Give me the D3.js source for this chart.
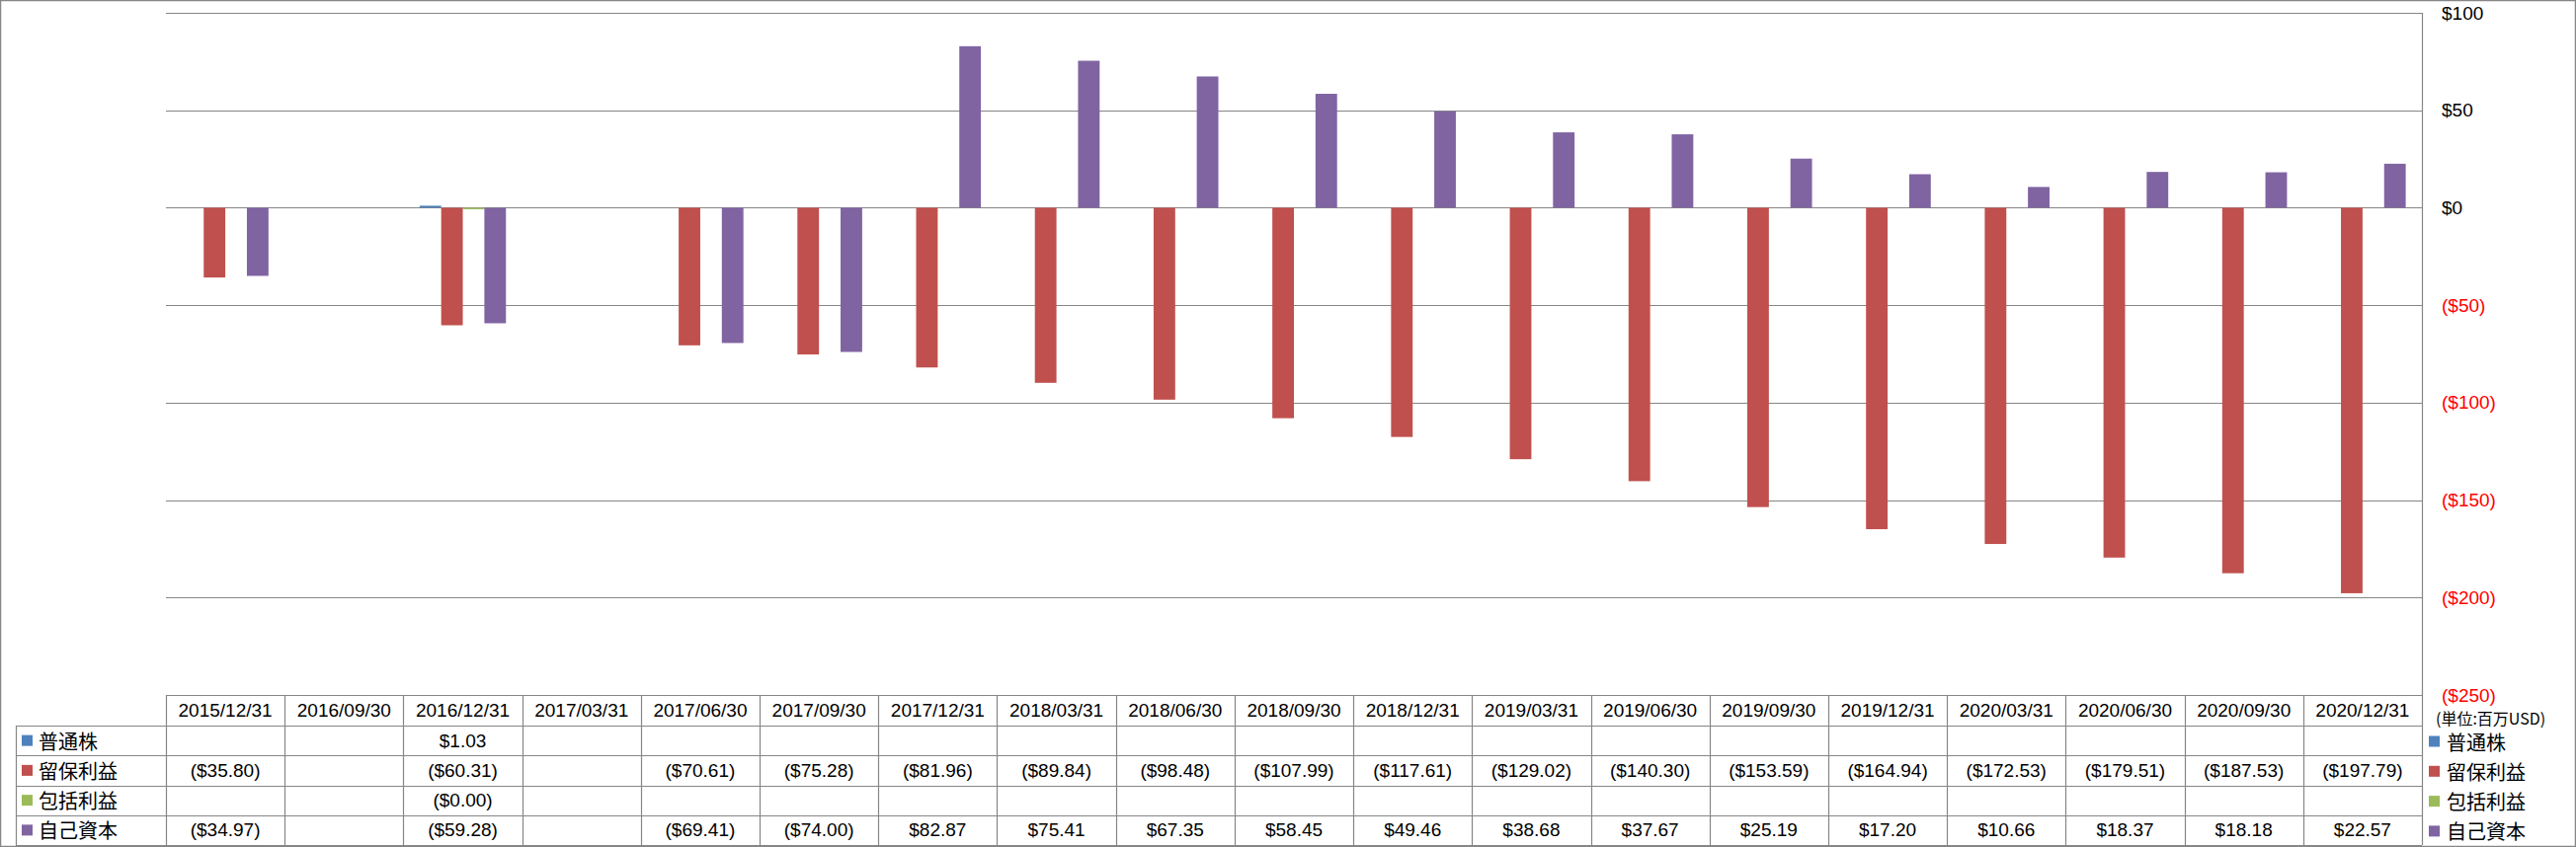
<!DOCTYPE html>
<html>
<head>
<meta charset="utf-8">
<script src="https://cdn.jsdelivr.net/npm/d3@7"></script>
<style>
  body { margin: 0; background: #fff; }
  text { font-family: 'Liberation Sans', Arial, sans-serif; }
  .jp { font-family: 'Noto Sans CJK JP', sans-serif; }
</style>
</head>
<body>
<script>
/* global d3 */

// categories (quarter ends)
const dates = [
  '2015/12/31', '2016/09/30', '2016/12/31', '2017/03/31', '2017/06/30',
  '2017/09/30', '2017/12/31', '2018/03/31', '2018/06/30', '2018/09/30',
  '2018/12/31', '2019/03/31', '2019/06/30', '2019/09/30', '2019/12/31',
  '2020/03/31', '2020/06/30', '2020/09/30', '2020/12/31'
];

const seriesNames = ['普通株', '留保利益', '包括利益', '自己資本'];
const seriesColors = ['#4F81BD', '#C0504D', '#9BBB59', '#8064A2'];

// values in million USD, null = blank cell
const commonStock = [null, null, 1.03, null, null, null, null, null, null, null,
  null, null, null, null, null, null, null, null, null];
const retainedEarnings = [-35.80, null, -60.31, null, -70.61, -75.28, -81.96, -89.84, -98.48, -107.99,
  -117.61, -129.02, -140.30, -153.59, -164.94, -172.53, -179.51, -187.53, -197.79];
const comprehensiveIncome = [null, null, -0.001, null, null, null, null, null, null, null,
  null, null, null, null, null, null, null, null, null];
const equity = [-34.97, null, -59.28, null, -69.41, -74.00, 82.87, 75.41, 67.35, 58.45,
  49.46, 38.68, 37.67, 25.19, 17.20, 10.66, 18.37, 18.18, 22.57];

const yTicks = [100, 50, 0, -50, -100, -150, -200, -250];
const unitLabel = '(単位:百万USD)';

const seriesValues = [commonStock, retainedEarnings, comprehensiveIncome, equity];

const width = 2608;
const height = 858;
const gridColor = '#868686';

const plotLeft = 168;
const plotRight = 2452;
const plotTop = 13;
const plotBottom = 704;
const headerBottom = 735;
const rowH = 30.25;
const legendLeft = 16;

const svg = d3.select('body').append('svg')
  .attr('width', width)
  .attr('height', height);

svg.append('rect')
  .attr('width', width)
  .attr('height', height)
  .attr('fill', '#fff');

const x0 = d3.scaleBand()
  .domain(dates)
  .range([plotLeft, plotRight]);

const gap = x0.step() * 0.75 / 5.5;
const x1 = d3.scaleBand()
  .domain(seriesNames)
  .range([gap, x0.step() - gap]);

const y = d3.scaleLinear()
  .domain([-250, 100])
  .range([plotBottom, plotTop]);

const fmt = d => {
  if (d == null) return '';
  return d < 0 ? `($${Math.abs(d).toFixed(2)})` : `$${d.toFixed(2)}`;
};

// gridlines
svg.append('g')
  .selectAll('line')
  .data(yTicks)
  .enter().append('line')
    .attr('x1', plotLeft)
    .attr('x2', plotRight)
    .attr('y1', d => Math.round(y(d)) + 0.5)
    .attr('y2', d => Math.round(y(d)) + 0.5)
    .style('stroke', gridColor)
    .style('stroke-width', 1.2);

// right axis
const axis = svg.append('g')
  .attr('transform', `translate(${plotRight},0)`)
  .call(d3.axisRight(y)
    .tickValues(yTicks)
    .tickSize(0)
    .tickPadding(20)
    .tickFormat(d => d < 0 ? `($${-d})` : `$${d}`));
axis.select('.domain').remove();
axis.selectAll('text')
  .style('font-size', '19px')
  .style('font-family', "'Liberation Sans', Arial, sans-serif")
  .attr('fill', d => d < 0 ? '#FF0000' : '#000');

// bars
const barData = [];
seriesValues.forEach((vals, s) => {
  vals.forEach((v, i) => {
    if (v != null) barData.push({ date: dates[i], series: seriesNames[s], color: seriesColors[s], value: v });
  });
});

svg.append('g')
  .selectAll('rect')
  .data(barData)
  .enter().append('rect')
    .attr('x', d => x0(d.date) + x1(d.series))
    .attr('width', x1.bandwidth())
    .attr('y', d => Math.min(y(d.value), y(0)))
    .attr('height', d => Math.max(1.5, Math.abs(y(d.value) - y(0))))
    .style('fill', d => d.color);

// data table
const table = svg.append('g')
  .style('stroke', gridColor)
  .style('stroke-width', 1.2);

const rowTops = seriesNames.map((s, i) => headerBottom + i * rowH);
const tableBottom = headerBottom + seriesNames.length * rowH;

table.append('line')
  .attr('x1', plotLeft).attr('x2', plotRight)
  .attr('y1', plotBottom + 0.5).attr('y2', plotBottom + 0.5);
table.selectAll('line.row')
  .data(rowTops.concat([tableBottom]))
  .enter().append('line')
    .attr('class', 'row')
    .attr('x1', legendLeft).attr('x2', plotRight)
    .attr('y1', d => Math.round(d) + 0.5)
    .attr('y2', d => Math.round(d) + 0.5);
table.selectAll('line.col')
  .data(dates.map(d => x0(d)).concat([plotRight]))
  .enter().append('line')
    .attr('class', 'col')
    .attr('x1', d => Math.round(d) + 0.5).attr('x2', d => Math.round(d) + 0.5)
    .attr('y1', plotBottom).attr('y2', tableBottom);
table.append('line')
  .attr('x1', plotRight + 0.5).attr('x2', plotRight + 0.5)
  .attr('y1', plotTop).attr('y2', plotBottom);
table.append('line')
  .attr('x1', legendLeft + 0.5).attr('x2', legendLeft + 0.5)
  .attr('y1', headerBottom).attr('y2', tableBottom);

// header dates
svg.append('g')
  .selectAll('text')
  .data(dates)
  .enter().append('text')
    .attr('x', d => x0(d) + x0.bandwidth() / 2)
    .attr('y', (plotBottom + headerBottom) / 2)
    .attr('text-anchor', 'middle')
    .attr('dominant-baseline', 'central')
    .style('font-size', '19px')
    .text(d => d);

// table rows
seriesNames.forEach((name, s) => {
  const cy = rowTops[s] + rowH / 2;
  const row = svg.append('g');
  row.append('rect')
    .attr('x', 22).attr('y', cy - 5.5)
    .attr('width', 11).attr('height', 11)
    .style('fill', seriesColors[s]);
  row.append('text')
    .attr('class', 'jp')
    .attr('x', 39).attr('y', cy)
    .attr('dominant-baseline', 'central')
    .style('font-size', '20px')
    .text(name);
  row.selectAll('text.v')
    .data(seriesValues[s])
    .enter().append('text')
      .attr('class', 'v')
      .attr('x', (d, i) => x0(dates[i]) + x0.bandwidth() / 2)
      .attr('y', cy)
      .attr('text-anchor', 'middle')
      .attr('dominant-baseline', 'central')
      .style('font-size', '19px')
      .text(d => fmt(d));
});

// right legend
svg.append('text')
  .attr('class', 'jp')
  .attr('x', 2466).attr('y', 727)
  .attr('dominant-baseline', 'central')
  .style('font-size', '16px')
  .text(unitLabel);

const legend = svg.append('g')
  .selectAll('g')
  .data(seriesNames)
  .enter().append('g')
    .attr('transform', (d, i) => `translate(2459,${751 + i * 30.3})`);
legend.append('rect')
  .attr('y', -5.5).attr('width', 11).attr('height', 11)
  .style('fill', (d, i) => seriesColors[i]);
legend.append('text')
  .attr('class', 'jp')
  .attr('x', 18)
  .attr('dominant-baseline', 'central')
  .style('font-size', '20px')
  .text(d => d);

// chart border
svg.append('rect')
  .attr('x', 0.5).attr('y', 0.5)
  .attr('width', width - 1).attr('height', height - 1)
  .style('fill', 'none')
  .style('stroke', gridColor)
  .style('stroke-width', 1.5);
</script>
</body>
</html>
